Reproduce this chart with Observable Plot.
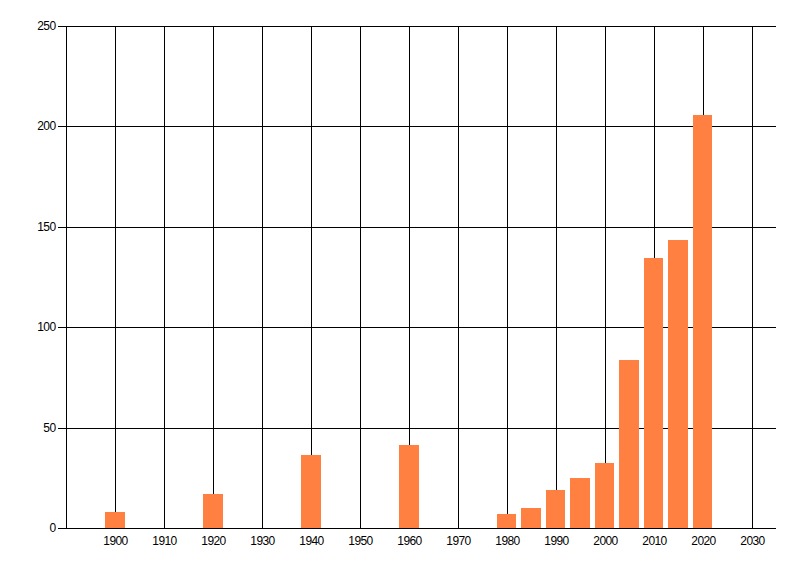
<!DOCTYPE html>
<html>
<head>
<meta charset="utf-8">
<script src="https://cdn.jsdelivr.net/npm/d3@7"></script>
<script src="https://cdn.jsdelivr.net/npm/@observablehq/plot@0.6"></script>
<style>
  html, body { margin: 0; padding: 0; background: #fff; }
  svg text { letter-spacing: -0.6px; }
</style>
</head>
<body>
<div id="chart"></div>
<script>
const years  = [1900, 1920, 1940, 1960, 1980, 1985, 1990, 1995, 2000, 2005, 2010, 2015, 2020];
const counts = [8, 17, 36.5, 41.5, 7, 10, 19, 25, 32.5, 83.5, 134.5, 143.5, 205.5];
const xTicks = [1900, 1910, 1920, 1930, 1940, 1950, 1960, 1970, 1980, 1990, 2000, 2010, 2020, 2030];
const yTicks = [0, 50, 100, 150, 200, 250];
const barHalfWidth = 2;

const data = years.map((y, i) => ({year: y, count: counts[i]}));

const chart = Plot.plot({
  width: 800,
  height: 576,
  marginLeft: 66,
  marginRight: 24,
  marginTop: 26,
  marginBottom: 48,
  style: {fontFamily: "'Liberation Sans', Arial, sans-serif", fontSize: "12px", color: "#000", background: "#fff"},
  x: {domain: [1890, 2035], round: true},
  y: {domain: [0, 250], round: true},
  marks: [
    Plot.gridX(xTicks, {stroke: "#000", strokeOpacity: 1, strokeWidth: 1}),
    Plot.gridY(yTicks, {stroke: "#000", strokeOpacity: 1, strokeWidth: 1}),
    Plot.rectY(data, {x1: d => d.year - barHalfWidth, x2: d => d.year + barHalfWidth, y: "count", fill: "#ff8040"}),
    Plot.ruleX([1890], {stroke: "#000"}),
    Plot.ruleY([0], {stroke: "#000"}),
    Plot.axisX(xTicks, {tickSize: 0, tickPadding: 8, label: null, tickFormat: d => String(d), fontSize: 12}),
    Plot.axisY(yTicks, {tickSize: 8, tickPadding: 3, label: null, fontSize: 12})
  ]
});
document.getElementById("chart").append(chart);
</script>
</body>
</html>
